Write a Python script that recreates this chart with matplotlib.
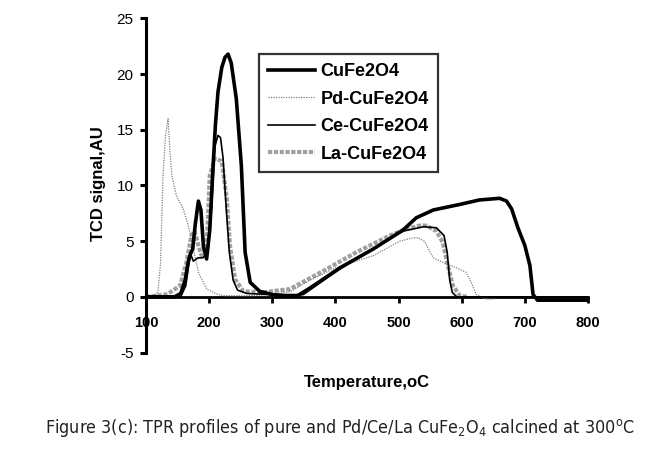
import matplotlib
matplotlib.use("Agg")
from matplotlib import pyplot as plt
from matplotlib import font_manager as fm

# TPR profiles (temperature in C, TCD signal in AU)
t_cu = [100, 145, 155, 162, 167, 170, 174, 178, 183, 187, 191, 196, 201, 206, 210, 214, 220, 225, 230,
        235, 243, 251, 257, 265, 280, 300, 320, 340, 360, 407, 460, 507, 528, 555, 597, 628, 660,
        671, 679, 689, 700, 708, 713, 720, 800]
v_cu = [0, 0, 0.3, 1.5, 3.2, 3.8, 4.3, 6.5, 8.6, 7.8, 4.5, 3.4, 6.0, 11.5, 15.5, 18.4, 20.6, 21.5, 21.8,
        21.0, 17.8, 11.8, 4.0, 1.3, 0.5, 0.2, 0.1, 0.1, 0.8, 2.6, 4.3, 6.0, 7.1, 7.8, 8.3, 8.7, 8.85,
        8.6, 7.9, 6.2, 4.6, 2.8, 0.2, -0.3, -0.3]

t_pd = [100, 115, 119, 123, 127, 131, 135, 138, 141, 148, 159, 167, 175, 183, 196, 210, 222, 260,
        300, 330, 360, 400, 460, 502, 523, 531, 541, 549, 555, 570, 592, 607, 615, 623, 639, 650]
v_pd = [0, 0.1, 0.5, 3.0, 11.0, 14.5, 16.0, 13.0, 10.9, 9.1, 7.9, 6.4, 4.3, 2.2, 0.7, 0.3, 0.1, 0.1,
        0.2, 0.5, 1.5, 2.6, 3.7, 5.0, 5.3, 5.3, 5.0, 4.1, 3.5, 3.1, 2.6, 2.2, 1.3, 0.2, -0.2, -0.2]

t_ce = [100, 155, 163, 168, 171, 175, 182, 190, 198, 204, 209, 214, 218, 222, 227, 232, 238, 245,
        260, 300, 349, 407, 460, 507, 540, 560, 572, 577, 581, 585, 592, 800]
v_ce = [0, 0, 1.0, 3.0, 3.8, 3.2, 3.5, 3.5, 4.0, 8.0, 13.5, 14.5, 14.3, 12.5, 8.0, 4.0, 1.5, 0.6,
        0.3, 0.2, 0.2, 2.5, 4.3, 5.9, 6.3, 6.2, 5.5, 4.0, 1.5, 0.4, 0, 0]

t_la = [100, 130, 138, 154, 164, 172, 177, 183, 188, 196, 201, 209, 220, 228, 233, 241, 254, 285,
        328, 380, 433, 486, 512, 534, 544, 560, 570, 578, 586, 597, 610]
v_la = [0, 0.2, 0.4, 1.0, 3.1, 5.5, 5.9, 4.6, 3.7, 4.3, 10.9, 12.4, 12.2, 8.8, 4.6, 1.6, 0.5, 0.4,
        0.7, 2.3, 4.0, 5.5, 6.1, 6.4, 6.4, 5.9, 4.9, 2.8, 1.0, 0.1, 0]

x_ticks = [100, 200, 300, 400, 500, 600, 700, 800]
y_ticks = [-5, 0, 5, 10, 15, 20, 25]

caption = (r'Figure 3(c): TPR profiles of pure and Pd/Ce/La '
           r'CuFe$\mathregular{_2}$O$\mathregular{_4}$ calcined at 300$\mathregular{^o}$C')

plt.rcParams['font.family'] = ['Liberation Sans', 'DejaVu Sans']
plt.rcParams['axes.unicode_minus'] = False

# narrow font for the caption if one is around
cap_font = 'Liberation Sans'
cap_stretch = 'normal'
p = fm.findfont(fm.FontProperties(family='DejaVu Sans', stretch='condensed'), fallback_to_default=True)
if 'Condensed' in p:
    cap_font = 'DejaVu Sans'
    cap_stretch = 'condensed'
plt.rcParams['mathtext.fontset'] = 'custom'
plt.rcParams['mathtext.rm'] = cap_font

fig = plt.figure(figsize=(6.63, 4.51), dpi=100)
ax = fig.add_axes([0.2202, 0.2184, 0.6667, 0.7406])

ax.plot(t_la, v_la, color='#a0a0a0', lw=3, linestyle=(0, (1, 0.4)), label='La-CuFe2O4', zorder=2)
ax.plot(t_pd, v_pd, color='#808080', lw=0.9, linestyle=(0, (1, 1)), label='Pd-CuFe2O4', zorder=3)
ax.plot(t_ce, v_ce, color='black', lw=1.2, label='Ce-CuFe2O4', zorder=4)
ax.plot(t_cu, v_cu, color='black', lw=2.6, label='CuFe2O4', zorder=5)

ax.set_xlim(100, 800)
ax.set_ylim(-5, 25)
ax.set_xticks(x_ticks)
ax.set_yticks(y_ticks)

for s in ['top', 'right']:
    ax.spines[s].set_visible(False)
ax.spines['bottom'].set_position(('data', 0))
ax.spines['left'].set_linewidth(2.2)
ax.spines['bottom'].set_linewidth(2.0)

ax.tick_params(axis='y', direction='out', length=4, width=2.2, labelsize=11, pad=5)
ax.tick_params(axis='x', direction='out', length=4, width=2.0, labelsize=10.5, pad=10)
for lab in ax.get_xticklabels():
    lab.set_fontweight('bold')

h, l = ax.get_legend_handles_labels()
order = [3, 1, 2, 0]
leg = ax.legend([h[i] for i in order], [l[i] for i in order], loc='upper left',
                bbox_to_anchor=(0.256, 0.893), frameon=True, fancybox=False,
                prop={'weight': 'bold', 'size': 13}, handlelength=2.6, handletextpad=0.3,
                labelspacing=0.58, borderpad=0.5, borderaxespad=0)
leg.get_frame().set_edgecolor('black')
leg.get_frame().set_linewidth(1.6)

fig.text(0.149, 0.592, 'TCD signal,AU', rotation=90, ha='center', va='center',
         fontsize=12, fontweight='bold')
fig.text(0.553, 0.151, 'Temperature,oC', ha='center', va='center', fontsize=12, fontweight='bold')
cap = fig.text(0.513, 0.051, caption, ha='center', va='center', fontsize=14,
               family=cap_font, stretch=cap_stretch, color='#222222')

# fit the caption to the width it has in the reference (~591 px)
r = fig.canvas.get_renderer()
w = cap.get_window_extent(r).width
cap.set_fontsize(min(15.5, 14 * 591.0 / w))

fig.savefig('out.png', dpi=100)
